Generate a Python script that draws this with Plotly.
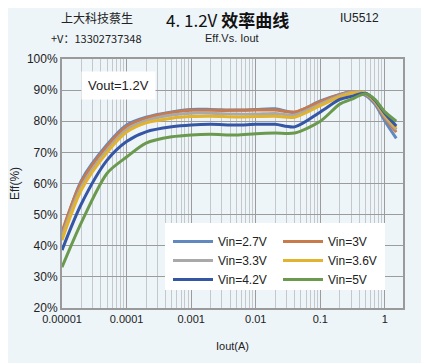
import plotly.graph_objects as go

iout = [1e-5, 2e-5, 5e-5, 1e-4, 2e-4, 5e-4, 1e-3, 2e-3, 5e-3, 1e-2, 2e-2, 4e-2, 0.1, 0.2, 0.3, 0.5, 0.7, 1.0, 1.5]
eff_27 = [43.5, 61.0, 72.5, 78.8, 81.3, 83.0, 83.8, 83.8, 83.6, 83.8, 84.0, 82.8, 86.5, 88.6, 89.5, 88.3, 85.5, 80.0, 74.5]
eff_30 = [44.5, 60.5, 72.0, 78.3, 81.0, 82.8, 83.5, 83.5, 83.5, 83.6, 83.6, 83.0, 86.3, 88.5, 89.5, 88.6, 86.0, 81.0, 76.5]
eff_33 = [43.0, 59.0, 70.8, 77.3, 80.2, 82.0, 82.6, 82.6, 82.3, 82.3, 82.5, 82.0, 85.5, 88.2, 89.3, 88.8, 86.3, 81.5, 77.3]
eff_36 = [41.8, 58.0, 70.0, 76.5, 79.5, 81.0, 81.5, 81.6, 81.4, 81.5, 81.6, 81.3, 85.0, 87.8, 89.0, 89.0, 86.5, 82.0, 77.8]
eff_42 = [38.6, 53.5, 67.5, 73.5, 76.6, 78.2, 78.8, 79.0, 78.8, 79.0, 79.0, 78.2, 83.0, 87.0, 88.0, 89.0, 86.8, 82.5, 78.5]
eff_50 = [33.1, 47.5, 63.3, 68.5, 73.0, 75.0, 75.6, 75.8, 75.6, 76.0, 76.2, 76.2, 80.0, 85.5, 87.0, 88.8, 87.0, 83.0, 80.0]

series_names = ["Vin=2.7V", "Vin=3V", "Vin=3.3V", "Vin=3.6V", "Vin=4.2V", "Vin=5V"]
series_vals = [eff_27, eff_30, eff_33, eff_36, eff_42, eff_50]
series_colors = ["#6189c0", "#c97a4c", "#a9a9a9", "#e2b32e", "#3556a4", "#6b9a4e"]
legend_ids = ["legend", "legend2", "legend", "legend2", "legend", "legend2"]

x_ticks = [1e-5, 1e-4, 1e-3, 1e-2, 1e-1, 1]
x_ticktext = ["0.00001", "0.0001", "0.001", "0.01", "0.1", "1"]

BG = "#eef5f9"
OFF = 8  # page body margin
WIN_W, WIN_H = 429, 363
W, H = WIN_W - OFF, WIN_H - OFF
# plot area in window pixels
PL, PR, PT, PB = 62, 403, 59, 308
ML, MR, MT, MB = PL - OFF, WIN_W - PR, PT - OFF, WIN_H - PB
PW, PH = PR - PL, PB - PT

def px(x):
    return (x - PL) / PW

def py(y):
    return (PB - y) / PH

fig = go.Figure()
for name, vals, col, lg in zip(series_names, series_vals, series_colors, legend_ids):
    fig.add_trace(go.Scatter(x=iout, y=vals, name=name, mode="lines",
                             line=dict(color=col, width=3, shape="spline", smoothing=0.8),
                             legend=lg))

latin = "Liberation Sans, Arial, sans-serif"
cjk = "Noto Sans CJK SC"

fig.update_layout(
    width=W, height=H,
    margin=dict(l=ML, r=MR, t=MT, b=MB, autoexpand=False),
    paper_bgcolor=BG, plot_bgcolor=BG,
    font=dict(family=latin, size=11, color="#222"),
    xaxis=dict(type="log", range=[-5, 0.28], tickvals=x_ticks, ticktext=x_ticktext,
               showgrid=True, gridcolor="#9c9c9c", gridwidth=1,
               minor=dict(showgrid=True, gridcolor="#c4c8cc", gridwidth=1, dtick="D1"),
               showline=True, linecolor="#9a9a9a", linewidth=2, mirror=True,
               ticks="", tickfont=dict(size=11), automargin=False,
               title=dict(text="Iout(A)", font=dict(size=11), standoff=18),
               zeroline=False),
    yaxis=dict(range=[20, 100], dtick=10, ticksuffix="%",
               showgrid=True, gridcolor="#9c9c9c", gridwidth=1,
               showline=True, linecolor="#9a9a9a", linewidth=2, mirror=True,
               ticks="", tickfont=dict(size=12), automargin=False,
               title=dict(text="Eff(%)", font=dict(size=12), standoff=10),
               zeroline=False),
    legend=dict(x=px(168), y=py(227), xanchor="left", yanchor="top",
                bgcolor="rgba(0,0,0,0)", font=dict(size=12, color="#222"),
                tracegroupgap=0, itemwidth=40),
    legend2=dict(x=px(278), y=py(227), xanchor="left", yanchor="top",
                 bgcolor="rgba(0,0,0,0)", font=dict(size=12, color="#222"),
                 tracegroupgap=0, itemwidth=40),
    showlegend=True,
)

fig.add_shape(type="rect", xref="paper", yref="paper",
              x0=px(165), x1=px(385), y0=py(290), y1=py(223),
              fillcolor="white", line=dict(width=0), layer="above")

def note(x, y, text, family, size, color="#222"):
    fig.add_annotation(xref="paper", yref="paper", x=px(x), y=py(y), text=text,
                       xanchor="center", yanchor="middle", showarrow=False,
                       borderpad=0,
                       font=dict(family=family, size=size, color=color))

fig.add_annotation(xref="paper", yref="paper", x=px(118), y=py(85),
                   xanchor="center", yanchor="middle",
                   text="Vout=1.2V", showarrow=False, bgcolor="white",
                   font=dict(size=13, color="#222"), borderpad=6)

note(97, 18, "上大科技蔡生", cjk, 12)
note(227, 19, "4. 1.2V <b>效率曲线</b>", cjk, 17, "#111")
note(359, 18, "IU5512", latin, 12)
note(96, 38, "+V：13302737348", cjk, 11)
note(232, 38, "Eff.Vs. Iout", latin, 11)

fig.write_html("out.html")
